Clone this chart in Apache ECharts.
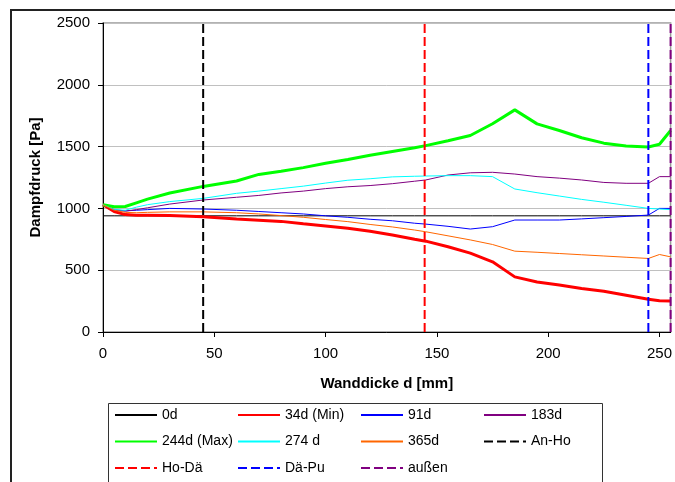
<!DOCTYPE html>
<html>
<head>
<meta charset="utf-8">
<script src="https://cdn.jsdelivr.net/npm/echarts@6/dist/echarts.min.js"></script>
<style>html,body{margin:0;padding:0;background:#fff}#c{width:675px;height:482px}</style>
</head>
<body>
<div id="c"></div>
<script>
// Wall depth nodes (mm)
const xNodes = [0,5,10,15,20,30,45,60,70,80,90,100,110,120,130,140,145,155,165,175,185,195,205,215,225,235,245,250,255];
// Vapour pressure series (Pa)
const d0   = [940,940,940,940,940,940,940,940,940,940,940,940,940,940,940,940,940,940,940,940,940,940,940,940,940,940,940,940,940];
const d34  = [1030,975,950,945,945,942,932,915,905,895,875,858,840,815,785,750,735,690,638,568,446,405,380,352,330,298,265,252,250];
const d91  = [1030,990,980,985,990,1000,995,985,975,965,955,940,928,912,900,880,873,855,833,852,906,906,906,915,925,935,946,1000,1000];
const d183 = [1030,985,978,990,1005,1035,1068,1090,1105,1125,1140,1160,1175,1185,1200,1220,1230,1270,1288,1292,1278,1257,1245,1230,1210,1203,1203,1257,1257];
const d244 = [1030,1013,1015,1045,1075,1125,1178,1222,1275,1300,1330,1365,1395,1430,1460,1490,1508,1548,1590,1685,1797,1684,1630,1572,1528,1505,1497,1519,1630];
const d274 = [1030,990,985,1010,1030,1055,1081,1122,1140,1160,1180,1205,1228,1240,1255,1260,1262,1265,1265,1257,1157,1127,1100,1073,1050,1025,1000,995,990];
const d365 = [1030,985,968,965,968,972,972,965,955,942,928,910,893,870,850,825,811,778,745,708,654,645,635,625,615,605,595,627,608];
const curveNames = ['0d','34d (Min)','91d','183d','244d (Max)','274 d','365d'];
const curveValues = [d0,d34,d91,d183,d244,d274,d365];
const curveColors = ['#000000','#ff0000','#0000ff','#800080','#00ff00','#00ffff','#ff6600'];
const curveWidths = [1,3,1,1,3,1,1];
// Layer boundaries (mm)
const boundaryNames = ['An-Ho','Ho-Dä','Dä-Pu','außen'];
const boundaryX = [45,144.5,245,255];
const boundaryColors = ['#000000','#ff0000','#0000ff','#800080'];
// Axes
const yMin = 0, yMax = 2500, yStep = 500;
const xMin = 0, xMax = 255, xStep = 50;

const FONT = 'Liberation Sans, Arial, sans-serif';
const series = [];
curveNames.forEach((n,i)=>{
  series.push({
    name:n, type:'line', symbol:'none', animation:false,
    data: xNodes.map((x,j)=>[x, curveValues[i][j]]),
    lineStyle:{color:curveColors[i], width:curveWidths[i]},
    itemStyle:{color:curveColors[i]}
  });
});
boundaryNames.forEach((n,i)=>{
  series.push({
    name:n, type:'line', symbol:'none', animation:false, clip:false,
    data:[[boundaryX[i], yMin],[boundaryX[i], yMax]],
    lineStyle:{color:boundaryColors[i], width:2, type:[9,4]},
    itemStyle:{color:boundaryColors[i]}
  });
});

const allNames = curveNames.concat(boundaryNames);
const legends = allNames.map((n,i)=>({
  data:[n], left: 114 + (i%4)*123, top: 408 + Math.floor(i/4)*26.5,
  itemWidth:42, itemHeight:14, padding:0, selectedMode:false,
  itemStyle:{opacity:0, borderWidth:0},
  textStyle:{fontSize:14, color:'#000', fontFamily:FONT}
}));

const chart = echarts.init(document.getElementById('c'), null, {renderer:'canvas'});
chart.setOption({
  backgroundColor:'#fff',
  animation:false,
  grid:{left:103, right:4, top:23, bottom:150, show:true, borderColor:'#999', borderWidth:1.5, backgroundColor:'transparent'},
  xAxis:{
    type:'value', min:xMin, max:xMax, interval:xStep,
    name:'Wanddicke d [mm]', nameLocation:'middle', nameGap:44,
    nameTextStyle:{fontSize:15, fontWeight:'bold', color:'#000', fontFamily:FONT},
    axisLine:{show:true, onZero:false, lineStyle:{color:'#000', width:1}},
    axisTick:{show:true, length:5, lineStyle:{color:'#000'}},
    axisLabel:{fontSize:15, color:'#000', margin:14, fontFamily:FONT, showMaxLabel:false, formatter:v=>String(v)},
    splitLine:{show:false}
  },
  yAxis:{
    type:'value', min:yMin, max:yMax, interval:yStep,
    name:'Dampfdruck [Pa]', nameLocation:'middle', nameGap:60, nameRotate:90,
    nameTextStyle:{fontSize:15, fontWeight:'bold', color:'#000', fontFamily:FONT},
    axisLine:{show:true, lineStyle:{color:'#000', width:1}},
    axisTick:{show:true, length:5, lineStyle:{color:'#000'}},
    axisLabel:{fontSize:15, color:'#000', margin:13, fontFamily:FONT, formatter:v=>String(v)},
    splitLine:{show:true, lineStyle:{color:'#c0c0c0', width:1}}
  },
  legend: legends,
  graphic:[
    {type:'rect', shape:{x:11, y:10, width:700, height:520}, style:{fill:'none', stroke:'#222', lineWidth:2}, silent:true, z:-1},
    {type:'rect', shape:{x:108.5, y:403.5, width:494, height:100}, style:{fill:'#fff', stroke:'#333', lineWidth:1}, silent:true, z:-1}
  ],
  series: series
});
</script>
</body>
</html>
